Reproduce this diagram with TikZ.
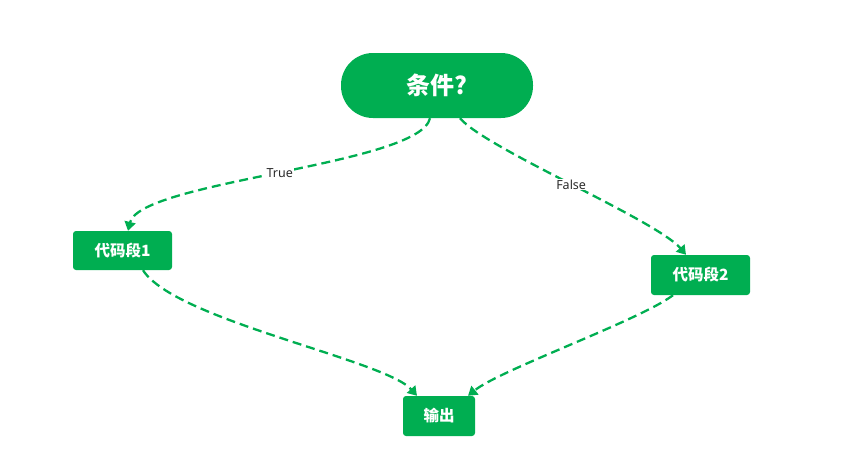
\documentclass[tikz,border=0pt]{standalone}
\usepackage{fontspec}
\setmainfont{Noto Sans}
\newfontfamily\cjk{Noto Sans CJK SC}
\usetikzlibrary{arrows.meta}
\definecolor{flowgreen}{HTML}{00AE51}
\definecolor{lbltext}{HTML}{2B2B2B}
\begin{document}
\begin{tikzpicture}[x=1pt,y=-1pt,>={Triangle[width=11pt,length=9pt]},
	box/.style={fill=flowgreen,rounded corners=3pt,text=white,
		font=\cjk\bfseries\fontsize{15.5}{18}\selectfont},
	pill/.style={fill=flowgreen,rounded corners=32pt,text=white,
		font=\cjk\bfseries\fontsize{24}{28}\selectfont},
	link/.style={->,flowgreen,line width=2.3pt,dash pattern=on 9pt off 5pt},
	lbl/.style={fill=white,inner sep=1pt,text=lbltext,font=\fontsize{12.5}{15}\selectfont}]
	\useasboundingbox (0,0) rectangle (861,463);
	% blocks
	\node[pill,minimum width=192pt,minimum height=65pt] (cond) at (437,85.5) {条件?};
	\node[box,minimum width=99pt,minimum height=39pt] (code1) at (122.5,250.5) {代码段1};
	\node[box,minimum width=99pt,minimum height=40pt] (code2) at (700.5,275) {代码段2};
	\node[box,minimum width=72pt,minimum height=40pt] (out) at (439,416) {输出};
	% branches
	\draw[link] ([xshift=-7pt]cond.south) .. controls +(-10,47) and +(12,-50) .. %
		node[lbl]{True} ([xshift=5.5pt]code1.north);
	\draw[link] ([xshift=23pt]cond.south) .. controls +(25,30) and +(-30,-35) .. %
		node[lbl]{False} ([xshift=-14.5pt]code2.north);
	% merge
	\draw[link] ([xshift=20.5pt]code1.south) .. controls +(32,50) and +(-32,-36) .. ([xshift=-22pt]out.north);
	\draw[link] ([xshift=-27.5pt]code2.south) .. controls +(-33,25) and +(32,-26) .. ([xshift=29pt]out.north);
\end{tikzpicture}
\end{document}
